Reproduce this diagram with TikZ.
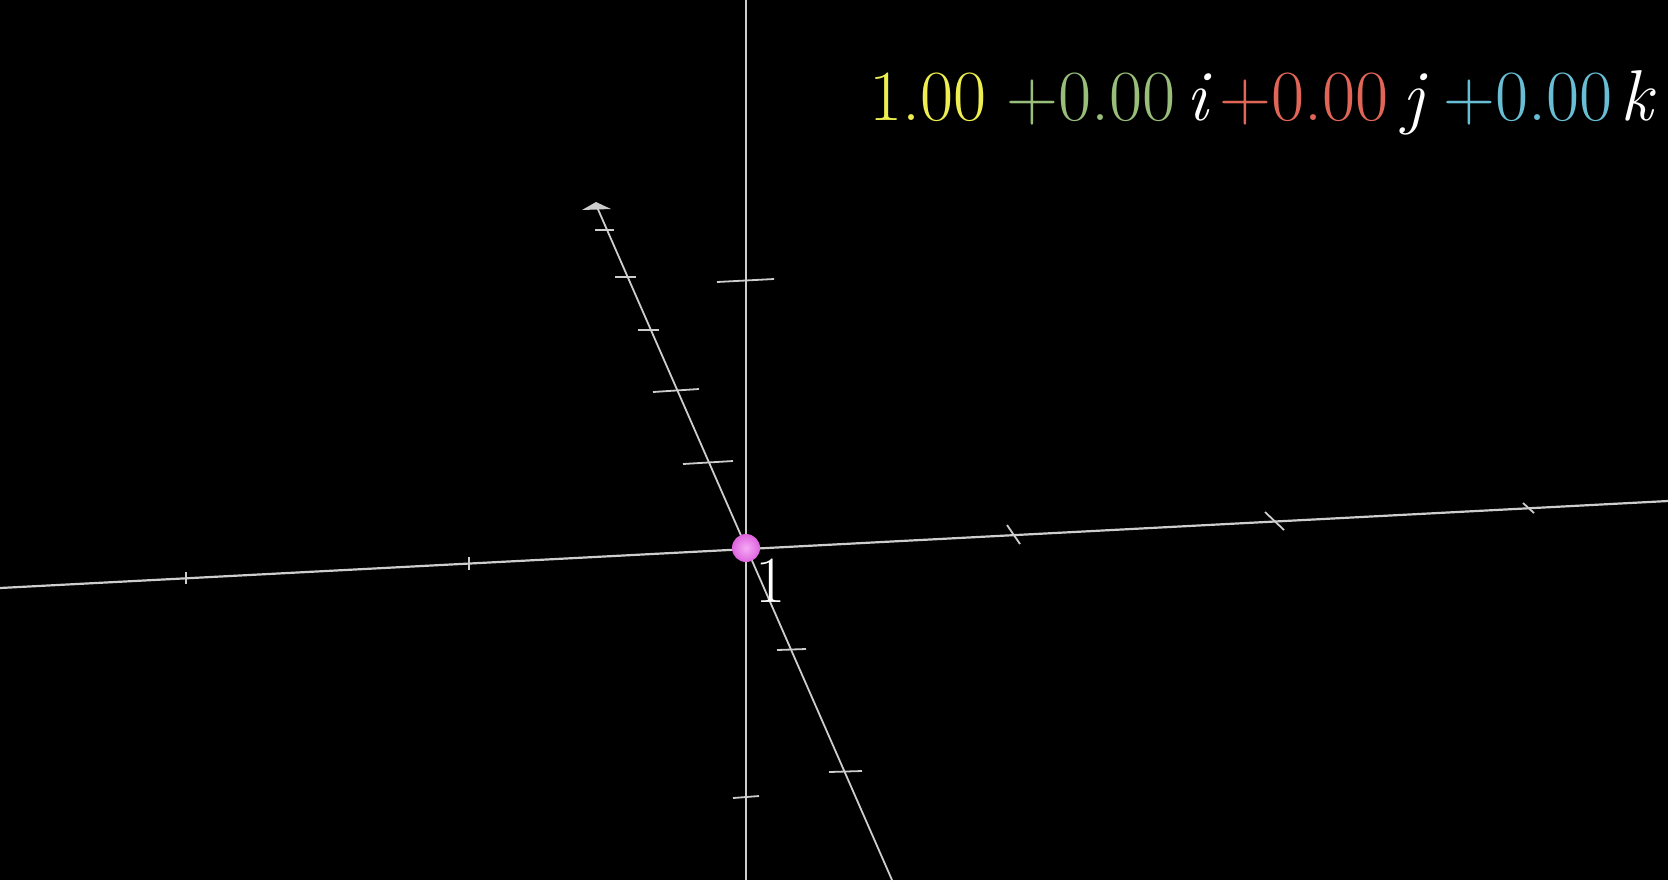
\documentclass[tikz,border=0pt]{standalone}
\definecolor{axisgray}{RGB}{205,205,205}
\definecolor{qyellow}{RGB}{238,238,80}
\definecolor{qgreen}{RGB}{152,190,122}
\definecolor{qred}{RGB}{226,102,88}
\definecolor{qblue}{RGB}{104,190,212}
\definecolor{ballpink}{RGB}{222,100,222}
\definecolor{balllight}{RGB}{245,170,245}
\tikzset{
  axisline/.style={draw=axisgray, line width=1.1pt},
  tickline/.style={draw=axisgray, line width=0.9pt},
  bigtext/.style={inner sep=0pt, anchor=base west, font=\fontsize{36}{42}\selectfont},
}
\begin{document}
\begin{tikzpicture}[x=0.5pt, y=-0.5pt]
\fill[black] (0,0) rectangle (1668,880);
\useasboundingbox (0,0) rectangle (1668,880);
% key points
\coordinate (O) at (746,548);
\coordinate (vtop) at (746,0);
\coordinate (vbot) at (746,880);
\coordinate (hleft) at (0,588);
\coordinate (hright) at (1668,501);
\coordinate (dtip) at (597,207);
\coordinate (dbot) at (892,880);
% axes
\draw[axisline] (vtop) -- (vbot);
\draw[axisline] (hleft) -- (hright);
\draw[axisline, line width=0.9pt] (dtip) -- (dbot);
% arrow cone at top of diagonal axis
\fill[axisgray] (596,202) -- (582,210) -- (611,209) -- cycle;
% ticks on the diagonal axis
\draw[tickline] (595,230) -- (614,230);
\draw[tickline] (615,277) -- (636,277);
\draw[tickline] (638,330) -- (659,330);
\draw[tickline] (653,392) -- (699,389);
\draw[tickline] (683,464) -- (733,461);
\draw[tickline] (777,650) -- (806,649);
\draw[tickline] (829,772) -- (862,771);
% ticks on the vertical axis
\draw[tickline] (717,282) -- (774,279);
\draw[tickline] (733,798) -- (759,796);
% ticks on the horizontal axis
\draw[tickline] (186,572) -- (186,584);
\draw[tickline] (469,557) -- (469,570);
\draw[tickline] (1007,525) -- (1020,544);
\draw[tickline] (1265,512) -- (1284,530);
\draw[tickline] (1523,503) -- (1534,513);
% point
\node[circle, inner sep=0pt, minimum size=14pt, inner color=balllight, outer color=ballpink] (ball) at (O) {};
\node[text=white, inner sep=0pt, font=\fontsize{33}{39}\selectfont] (one) at (771,581) {1};
% quaternion readout
\node[bigtext, text=qyellow] (re) at (869,120) {1.00};
\node[bigtext, text=qgreen] (ci) at (1006,120) {+0.00};
\node[bigtext, text=white] (li) at (1186,120) {\itshape i};
\node[bigtext, text=qred] (cj) at (1219,120) {+0.00};
\node[bigtext, text=white] (lj) at (1402,120) {\itshape j};
\node[bigtext, text=qblue] (ck) at (1443,120) {+0.00};
\node[bigtext, text=white] (lk) at (1620,120) {\itshape k};
\end{tikzpicture}
\end{document}
